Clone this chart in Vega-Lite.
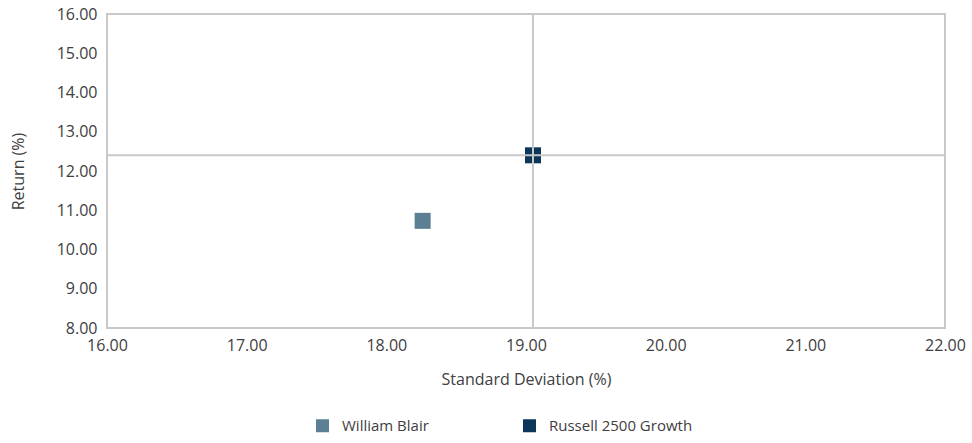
{
  "$schema": "https://vega.github.io/schema/vega-lite/v6.json",
  "autosize": {"type": "none"},
  "width": 838,
  "height": 314,
  "padding": {"left": 107, "top": 14, "right": 27, "bottom": 115},
  "background": "white",
  "config": {
    "font": "Open Sans",
    "view": {"stroke": "#c8c8c8", "strokeWidth": 2},
    "axis": {"domain": false, "ticks": false, "grid": false, "labelColor": "#404040", "titleColor": "#404040", "labelFont": "Open Sans", "titleFont": "Open Sans", "labelFontSize": 16, "titleFontSize": 16, "titleFontWeight": "normal", "labelOverlap": false, "labelFlush": false}
  },
  "data": {"values": [
    {"name": "William Blair", "sd": 18.26, "ret": 10.73},
    {"name": "Russell 2500 Growth", "sd": 19.05, "ret": 12.40}
  ]},
  "layer": [
    {
      "mark": {"type": "point", "shape": "square", "filled": true, "opacity": 1, "size": 256},
      "encoding": {
        "x": {"field": "sd", "type": "quantitative", "title": "Standard Deviation (%)",
              "scale": {"domain": [16, 22], "nice": false, "zero": false},
              "axis": {"values": [16, 17, 18, 19, 20, 21, 22], "format": ".2f", "labelPadding": 9, "titlePadding": 18, "labelOverlap": false}},
        "y": {"field": "ret", "type": "quantitative", "title": "Return (%)",
              "scale": {"domain": [8, 16], "nice": false, "zero": false},
              "axis": {"values": [8, 9, 10, 11, 12, 13, 14, 15, 16], "format": ".2f", "labelPadding": 10, "titlePadding": 30, "labelOverlap": false}},
        "color": {"field": "name", "type": "nominal",
                  "scale": {"domain": ["William Blair", "Russell 2500 Growth"], "range": ["#5d7f93", "#0c355a"]},
                  "legend": {"title": null, "orient": "none", "legendX": 208, "legendY": 404, "direction": "horizontal", "columns": 2,
                             "symbolType": "square", "symbolSize": 169, "symbolOpacity": 1, "labelFontSize": 15, "labelFont": "Open Sans", "labelColor": "#404040",
                             "columnPadding": 93, "labelOffset": 12}}
      }
    },
    {
      "transform": [{"filter": "datum.name === 'Russell 2500 Growth'"}],
      "mark": {"type": "rule", "color": "#c8c8c8", "strokeWidth": 2},
      "encoding": {"x": {"field": "sd", "type": "quantitative", "title": "Standard Deviation (%)",
              "scale": {"domain": [16, 22], "nice": false, "zero": false},
              "axis": {"values": [16, 17, 18, 19, 20, 21, 22], "format": ".2f", "labelPadding": 9, "titlePadding": 18, "labelOverlap": false}}}
    },
    {
      "transform": [{"filter": "datum.name === 'Russell 2500 Growth'"}],
      "mark": {"type": "rule", "color": "#c8c8c8", "strokeWidth": 2},
      "encoding": {"y": {"field": "ret", "type": "quantitative", "title": "Return (%)",
              "scale": {"domain": [8, 16], "nice": false, "zero": false},
              "axis": {"values": [8, 9, 10, 11, 12, 13, 14, 15, 16], "format": ".2f", "labelPadding": 10, "titlePadding": 30, "labelOverlap": false}}}
    }
  ]
}
